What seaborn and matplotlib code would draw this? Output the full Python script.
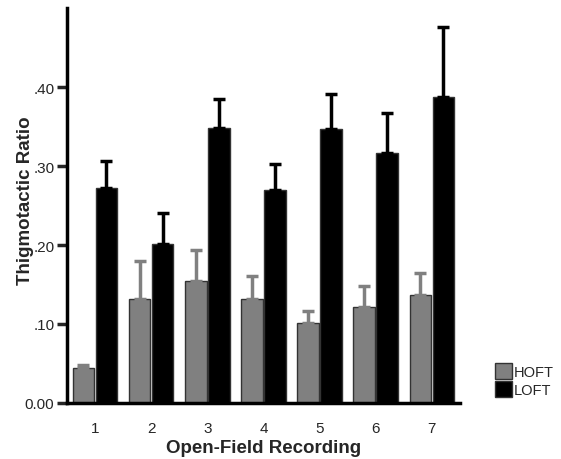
import pandas as pd
import matplotlib.pyplot as plt
import seaborn as sns

# values
recordings = ['1', '2', '3', '4', '5', '6', '7']
hoft_mean = [0.044, 0.132, 0.155, 0.132, 0.101, 0.121, 0.137]
hoft_err = [0.004, 0.048, 0.039, 0.029, 0.016, 0.027, 0.027]
loft_mean = [0.272, 0.201, 0.348, 0.270, 0.347, 0.317, 0.387]
loft_err = [0.034, 0.040, 0.037, 0.032, 0.044, 0.050, 0.089]
groups = ['HOFT', 'LOFT']

df = pd.DataFrame({
    'rec': recordings * 2,
    'ratio': hoft_mean + loft_mean,
    'group': ['HOFT'] * 7 + ['LOFT'] * 7,
})

sns.set_style("ticks")
plt.rcParams['font.family'] = ['Liberation Sans', 'DejaVu Sans']

fig = plt.figure(figsize=(5.61, 4.60), dpi=100)
ax = fig.add_axes([0.119, 0.122, 0.701, 0.858])

colors = {'HOFT': '#808080', 'LOFT': '#000000'}
sns.barplot(data=df, x='rec', y='ratio', hue='group', hue_order=groups,
            palette=colors, order=recordings, width=0.82, gap=0.06,
            edgecolor='#333333', linewidth=1, errorbar=None, ax=ax)

# one-sided error bars on top of each bar
errs = {'HOFT': hoft_err, 'LOFT': loft_err}
for cont, g in zip(ax.containers, groups):
    xs = [p.get_x() + p.get_width() / 2 for p in cont.patches]
    hs = [p.get_height() for p in cont.patches]
    ax.errorbar(xs, hs, yerr=[[0] * len(hs), errs[g]], fmt='none',
                ecolor=colors[g], elinewidth=2.5, capsize=4, capthick=2.5, zorder=1)

ax.set_xlim(-0.5, 6.5)
ax.set_ylim(0, 0.5)
ax.set_yticks([0, 0.1, 0.2, 0.3, 0.4])
ax.set_yticklabels(['0.00', '.10', '.20', '.30', '.40'])
sns.despine(ax=ax)
for s in ['left', 'bottom']:
    ax.spines[s].set_linewidth(2.5)
    ax.spines[s].set_color('black')
ax.tick_params(axis='y', length=7, width=2.5, labelsize=11, pad=2)
ax.tick_params(axis='x', length=0, labelsize=11, pad=13)

ax.set_xlabel('Open-Field Recording', fontsize=13.5, fontweight='bold', labelpad=3)
ax.set_ylabel('Thigmotactic Ratio', fontsize=13.5, fontweight='bold')
ax.yaxis.set_label_coords(-0.083, 0.516)

ax.legend(loc='lower left', bbox_to_anchor=(1.073, 0.0), frameon=False,
          fontsize=10.5, handlelength=1.2, handleheight=1.3,
          handletextpad=0.1, labelspacing=0.15, borderaxespad=0)

plt.savefig('out.png', dpi=100)
